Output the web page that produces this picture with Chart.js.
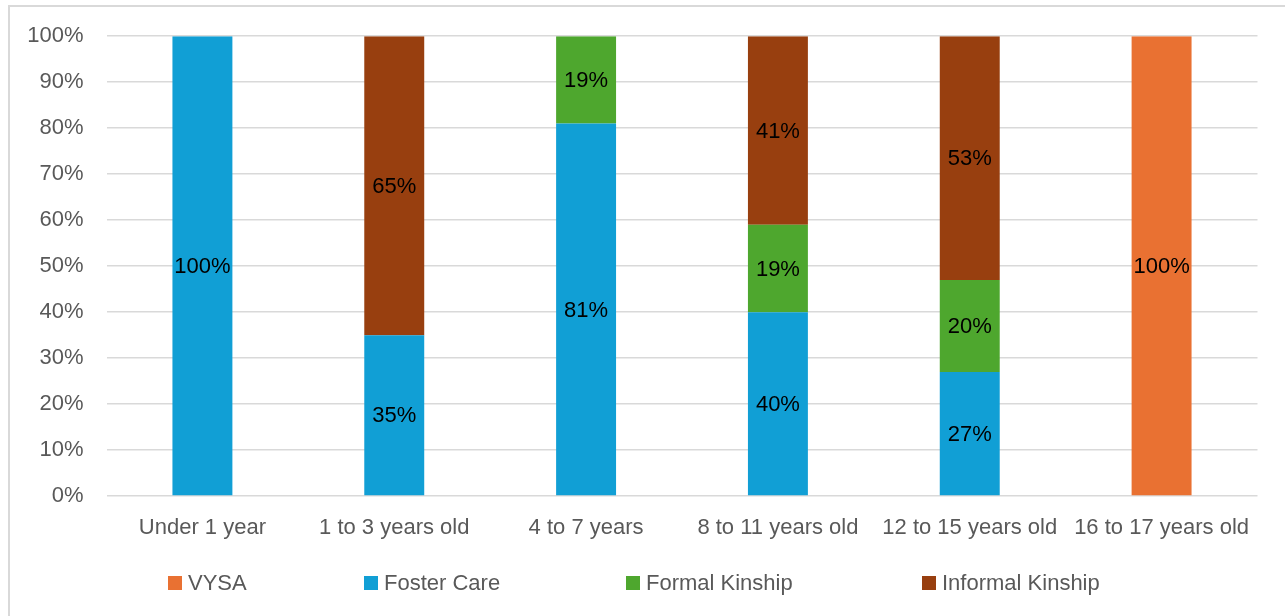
<!DOCTYPE html>
<html>
<head>
<meta charset="utf-8">
<script src="https://cdn.jsdelivr.net/npm/chart.js@4.4.1/dist/chart.umd.min.js"></script>
<style>
  html, body { margin: 0; padding: 0; background: #fff; overflow: hidden; }
  #frame {
    position: absolute; left: 8px; top: 5px; width: 1300px; height: 640px;
    border-left: 2px solid #d9d9d9; border-top: 2px solid #d9d9d9;
  }
  #wrap { position: absolute; left: 0; top: 0; width: 1285px; height: 616px; }
  #legend {
    position: absolute; left: 0; top: 570px; width: 1285px; height: 28px;
    font-family: "Liberation Sans", Arial, sans-serif; font-size: 22px; color: #595959;
  }
  #legend .item { position: absolute; top: 0; display: flex; align-items: center; white-space: nowrap; }
  #legend .box { width: 14px; height: 14px; margin-right: 6px; }
</style>
</head>
<body>
<div id="frame"></div>
<div id="wrap"><canvas id="myChart" width="1285" height="616"></canvas></div>
<div id="legend"></div>
<script>
const categories = ['Under 1 year', '1 to 3 years old', '4 to 7 years', '8 to 11 years old', '12 to 15 years old', '16 to 17 years old'];
const vysa = [0, 0, 0, 0, 0, 100];
const fosterCare = [100, 35, 81, 40, 27, 0];
const formalKinship = [0, 0, 19, 19, 20, 0];
const informalKinship = [0, 65, 0, 41, 53, 0];
const yTicks = [0, 10, 20, 30, 40, 50, 60, 70, 80, 90, 100];

const seriesNames = ['VYSA', 'Foster Care', 'Formal Kinship', 'Informal Kinship'];
const seriesColors = ['#e97132', '#119fd5', '#4ea72e', '#983f0f'];
const seriesData = [vysa, fosterCare, formalKinship, informalKinship];
const legendLeft = [168, 364, 626, 922];

const fontFamily = '"Liberation Sans", Arial, sans-serif';

// draws the % inside each bar segment
const barLabels = {
  id: 'barLabels',
  afterDatasetsDraw(chart) {
    const ctx = chart.ctx;
    ctx.save();
    ctx.font = '22px ' + fontFamily;
    ctx.fillStyle = '#000';
    ctx.textAlign = 'center';
    ctx.textBaseline = 'middle';
    chart.data.datasets.forEach((ds, i) => {
      chart.getDatasetMeta(i).data.forEach((bar, j) => {
        const v = ds.data[j];
        if (!v) return;
        const p = bar.getProps(['x', 'y', 'base'], true);
        ctx.fillText(v + '%', p.x, (p.y + p.base) / 2 + 1);
      });
    });
    ctx.restore();
  }
};

const ctx = document.getElementById('myChart');
new Chart(ctx, {
  type: 'bar',
  data: {
    labels: categories,
    datasets: seriesNames.map((name, i) => ({
      label: name,
      data: seriesData[i],
      backgroundColor: seriesColors[i],
      borderWidth: 0,
      barPercentage: 0.3125,
      categoryPercentage: 1
    }))
  },
  options: {
    responsive: false,
    animation: false,
    layout: { padding: { top: 30, right: 27.5, bottom: 56.5, left: 0 } },
    plugins: {
      legend: { display: false },
      tooltip: { enabled: false }
    },
    scales: {
      x: {
        stacked: true,
        grid: { display: false, drawTicks: false },
        border: { display: false },
        ticks: { color: '#595959', font: { family: fontFamily, size: 22 }, padding: 18.5, maxRotation: 0, autoSkip: false }
      },
      y: {
        stacked: true,
        min: 0,
        max: 100,
        afterFit: s => { s.width = 106.5; },
        afterBuildTicks: s => { s.ticks = yTicks.map(v => ({ value: v })); },
        grid: { color: '#d9d9d9', lineWidth: 1.5, drawTicks: false },
        border: { display: false },
        ticks: { color: '#595959', font: { family: fontFamily, size: 22 }, padding: 23, callback: v => v + '%' }
      }
    }
  },
  plugins: [barLabels]
});

const legend = document.getElementById('legend');
seriesNames.forEach((name, i) => {
  const item = document.createElement('div');
  item.className = 'item';
  item.style.left = legendLeft[i] + 'px';
  const box = document.createElement('span');
  box.className = 'box';
  box.style.background = seriesColors[i];
  const txt = document.createElement('span');
  txt.textContent = name;
  item.appendChild(box);
  item.appendChild(txt);
  legend.appendChild(item);
});
</script>
</body>
</html>
